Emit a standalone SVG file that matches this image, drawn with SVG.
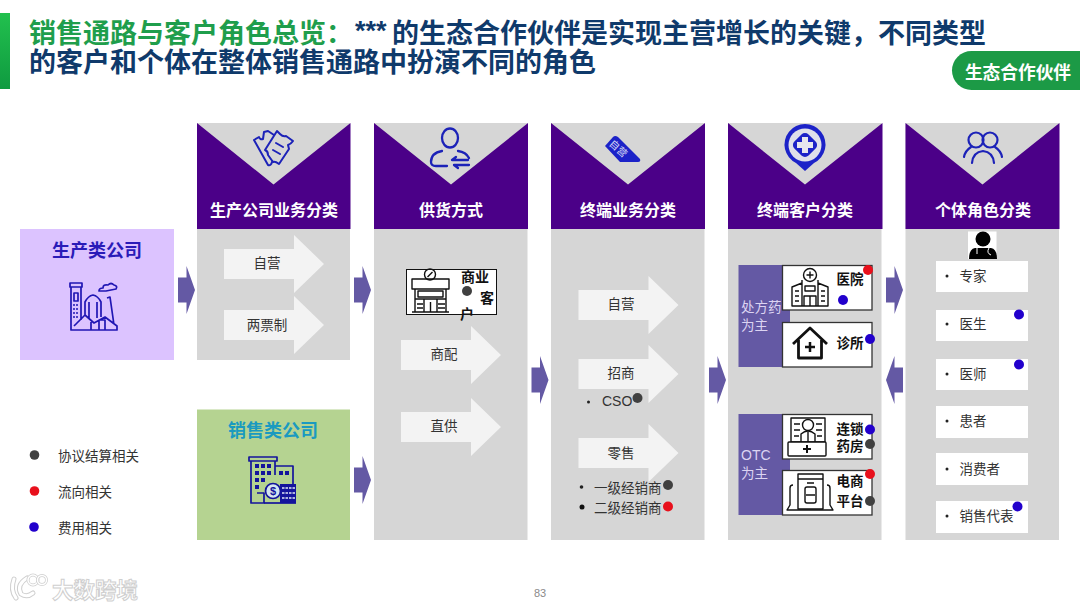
<svg xmlns="http://www.w3.org/2000/svg" width="1080" height="608" viewBox="0 0 1080 608">
<style>
text{font-family:"Noto Sans CJK SC","Liberation Sans",sans-serif;dominant-baseline:central;transform:translateY(-1.5px)}
.title{font-size:27px;font-weight:700;fill:#0f3a6b}
.hd{font-size:16px;font-weight:700;fill:#fff;text-anchor:middle}
.co{font-size:18px;font-weight:700;text-anchor:middle}
.lb{font-size:13.5px;fill:#333}
.lbm{font-size:13.5px;fill:#333;text-anchor:middle}
.cd{font-size:13.5px;font-weight:700;fill:#111;text-anchor:middle}
.side{font-size:13.5px;fill:#dcd4f2}
.lat{font-family:"Liberation Sans",sans-serif}
.body{fill:#d6d6d6}
.pur{fill:#4b0088}
.card{fill:#fff;stroke:#333;stroke-width:1.3}
.wb{fill:#fff}
.ico{fill:none;stroke:#1c22b8;stroke-width:2;stroke-linejoin:round;stroke-linecap:round}
.ik{fill:none;stroke:#111;stroke-width:1.4;stroke-linejoin:round}
.k{fill:#404040}.r{fill:#e8101c}.b{fill:#2200cc}
</style>
<defs>
<linearGradient id="g" x1="0" y1="0" x2="0" y2="1"><stop offset="0" stop-color="#22c04e"/><stop offset="1" stop-color="#0f9a40"/></linearGradient>
<path id="pale" d="M0,-15 H70 V-29 L100,0 L70,29 V15 H0 Z" fill="#f3f3f3"/>
<path id="blk" d="M0,-12.5 H8.5 V-24 L17,0 L8.5,24 V12.5 H0 Z" fill="#6459a4"/>
</defs>
<rect width="1080" height="608" fill="#fff"/>

<g id="title">
<rect x="0" y="13" width="10" height="76" fill="url(#g)"/>
<text class="title" x="29" y="32.500" fill="#1f9e4c" style="fill:#1f9e4c">销售通路与客户角色总览：</text>
<text class="title lat" x="355" y="32.500">***</text>
<text class="title" x="392" y="32.500">的生态合作伙伴是实现主营增长的关键，不同类型</text>
<text class="title" x="29" y="61.500">的客户和个体在整体销售通路中扮演不同的角色</text>
</g>
<g id="tag">
<path d="M1080,51 H971.500 A19.500,19.500 0 0 0 971.500,90 H1080 Z" fill="#1c9a46"/>
<text x="1018" y="72" font-size="17.700" font-weight="700" fill="#fff" text-anchor="middle">生态合作伙伴</text>
</g>

<g id="col1">
<rect class="body" x="197" y="123" width="153" height="237"/>
<path class="pur" d="M197,123 L273.500,184.500 L350.500,123 V229 H197 Z"/>
<text class="hd" x="274" y="210.500">生产公司业务分类</text>
<g class="ico"><path d="M254,140 L259,137 Q260,140 263,139 L264,132 L268,131 L274,135 M254,140 L268,165 Q271,166 272,162"/><path d="M277,131 L280,134 Q283,137 286,136 L293,141 Q291,144 288,145 L289,149 L279,164 Q275,161 273,162 L268,155 Q268,151 265,150 Z"/><path d="M276,143 L283,147 M273,150 L280,154"/></g>
<use href="#pale" x="224" y="264"/><text class="lbm" x="267" y="263">自营</text>
<use href="#pale" x="224" y="325"/><text class="lbm" x="267" y="325">两票制</text>
</g>

<g id="col2">
<rect class="body" x="374" y="123" width="153.500" height="417"/>
<path class="pur" d="M374,123 L451,184.500 L528,123 V229 H374 Z"/>
<text class="hd" x="451" y="210.500">供货方式</text>
<g class="ico" style="stroke-width:2.300"><ellipse cx="450" cy="138" rx="8" ry="9.500"/><path d="M442,151 Q431,153 431,162 Q431,166 436,166 H447 M458,151 Q466,152 469,158 M456,157 L452,160 H468 M469,165 H454 L458,168"/></g>
<use href="#pale" x="401" y="355"/><text class="lbm" x="444" y="354">商配</text>
<use href="#pale" x="401" y="427"/><text class="lbm" x="444" y="426">直供</text>
<rect x="406.500" y="269.500" width="90" height="45" fill="#fff" stroke="#111"/>
<g class="ik"><path d="M412,289 V279 H449 V289 Z M415,289 V312 M446,289 V312 M412,312 H449 M415,299 H446 M424,299 V312 M437,299 V312 M430.500,302 V312"/><rect x="418" y="291" width="25" height="6"/><circle cx="430" cy="274.500" r="5.500"/><path d="M427.500,277 L432.500,272"/><path d="M417,304 H423 M417,308 H423 M438,304 H445 M438,308 H445"/></g>
<text class="cd" x="475" y="277" style="font-size:14px">商业</text><circle class="k" cx="467" cy="291" r="5"/><text class="cd" x="487" y="298" style="font-size:14px">客</text><text class="cd" x="467" y="314" style="font-size:14px">户</text>
</g>

<g id="col3">
<rect class="body" x="551" y="123" width="153.500" height="417"/>
<path class="pur" d="M551,123 L628,184.500 L705,123 V229 H551 Z"/>
<text class="hd" x="628" y="210.500">终端业务分类</text>
<path d="M605,146 L613,137 Q615,135 618,137 L640,159 Q641,162 638,162 L620,162 Z" fill="#1c22c8"/>
<g transform="translate(618,149) rotate(42)"><text x="0" y="0" font-size="10" fill="#d6d6f4" text-anchor="middle">自营</text></g>
<use href="#pale" x="578.500" y="305"/><text class="lbm" x="621" y="304">自营</text>
<use href="#pale" x="578.500" y="374"/><text class="lbm" x="621" y="373">招商</text>
<use href="#pale" x="578.500" y="453"/><text class="lbm" x="621" y="453">零售</text>
<circle cx="588.500" cy="402" r="1.500" fill="#222"/><text class="lat" x="602" y="402.500" font-size="14" fill="#333">CSO</text><circle class="k" cx="637.500" cy="398" r="5"/>
<circle cx="581.500" cy="487" r="1.800" fill="#222"/><text class="lb" x="594" y="488">一级经销商</text><circle class="k" cx="668" cy="485" r="5"/>
<circle cx="582" cy="507" r="2.500" fill="#111"/><text class="lb" x="594" y="508.500">二级经销商</text><circle class="r" cx="668" cy="506.500" r="5"/>
</g>

<g id="col4">
<rect class="body" x="728" y="123" width="153.500" height="417"/>
<path class="pur" d="M728,123 L805,184.500 L882.500,123 V229 H728 Z"/>
<text class="hd" x="805" y="210.500">终端客户分类</text>
<g><path d="M805,171 L796,163 A20.500,20.500 0 1 1 814,163 Z" fill="#1c22c8"/><circle cx="805" cy="145" r="16.500" fill="#dfe0ea"/><rect x="795" y="135" width="20" height="20" rx="5" transform="rotate(45 805 145)" fill="#1c22c8"/><path d="M805,137 V153 M797,145 H813" stroke="#e6e6ee" stroke-width="6"/></g>
<rect x="738.500" y="265" width="51.500" height="102" fill="#6459a4"/>
<rect x="738.500" y="414" width="51.500" height="101" fill="#6459a4"/>
<text class="side" x="741" y="307.500">处方药</text><text class="side" x="741" y="325">为主</text>
<text class="side lat" x="741" y="456" style="font-size:14px">OTC</text><text class="side" x="741" y="473">为主</text>
<rect class="card" x="782.500" y="265.500" width="89.500" height="44.500"/>
<rect class="card" x="782.500" y="322.500" width="89.500" height="44.500"/>
<rect class="card" x="782.500" y="414.500" width="89.500" height="44.500"/>
<rect class="card" x="782.500" y="470.500" width="89.500" height="44.500"/>
<g class="ik"><circle cx="810" cy="275" r="6.500"/><path d="M810,271.500 V278.500 M806.500,275 H813.500 M802,280 V306 M818,280 V306 M802,283 L792,287 V306 H828 V287 L818,283 M795,291 H799 M795,296 H799 M795,301 H799 M821,291 H825 M821,296 H825 M821,301 H825 M805,286 H815 V291 H805 Z M804,296 H816 V306 H804 Z M810,296 V306"/></g>
<g fill="none" stroke="#111" stroke-width="2.800" stroke-linejoin="round"><path d="M793,344 L810,328 L827,344 M798.500,340 V358 H821.500 V340"/><path d="M810,342 V352 M805,347 H815" stroke-width="2.500"/></g>
<g class="ik"><rect x="791" y="418" width="34" height="24"/><circle cx="808" cy="425" r="5.500"/><path d="M801,442 V434 Q808,428 815,434 V442 M808,432 V442 M794,424 H800 M794,430 H800 M816,424 H822 M816,430 H822 M794,436 H799 M817,436 H822"/><rect x="788" y="442" width="38" height="14" rx="1" fill="#fff"/><path d="M807,445 V453 M803,449 H811" stroke-width="2"/></g>
<g class="ik"><rect x="798" y="474" width="25" height="35"/><path d="M798,479 H823 M793,485 Q790,485 790,488 V505 L787,510 H833 L830,505 V488 Q830,485 827,485"/><rect x="805" y="487" width="11" height="16" rx="2"/><path d="M807,483 H814 M806,495 H815" /></g>
<text class="cd" x="850" y="279.500">医院</text><circle class="r" cx="868" cy="270" r="5"/><circle class="b" cx="843" cy="300" r="5"/>
<text class="cd" x="850" y="343.500">诊所</text><circle class="b" cx="870" cy="339" r="5"/>
<text class="cd" x="850" y="429.500">连锁</text><text class="cd" x="850" y="446">药房</text><circle class="b" cx="870" cy="429.500" r="5"/><circle class="k" cx="870" cy="444" r="5"/>
<text class="cd" x="850" y="481">电商</text><text class="cd" x="850" y="501">平台</text><circle class="r" cx="870" cy="474" r="5"/><circle class="k" cx="870" cy="501" r="5"/>
</g>

<g id="col5">
<rect class="body" x="905.500" y="123" width="153.500" height="417"/>
<path class="pur" d="M905.500,123 L982.500,184.500 L1059.500,123 V229 H905.500 Z"/>
<text class="hd" x="983" y="210.500">个体角色分类</text>
<g class="ico" style="stroke-width:2.200"><circle cx="976" cy="140" r="7.500"/><circle cx="990" cy="140" r="7.500"/><path d="M972,163 Q973,152 983,151 Q993,152 994,163 M964,157 Q965,151 971,147 M1002,157 Q1001,151 995,147"/></g>
<rect class="wb" x="968" y="231.500" width="28.500" height="27.500"/>
<circle cx="983" cy="239" r="7.500" fill="#000"/><path d="M969,259 Q969,249 975,248 H991 Q997,249 997,259 Z" fill="#000"/><path d="M977,248 V254 M989,248 Q986,253 991,255" stroke="#fff" stroke-width="1" fill="none"/>
<rect class="wb" x="936" y="261" width="92" height="31"/>
<rect class="wb" x="936" y="310" width="92" height="31"/>
<rect class="wb" x="936" y="359" width="92" height="31"/>
<rect class="wb" x="936" y="406" width="92" height="32"/>
<rect class="wb" x="936" y="453" width="92" height="32"/>
<rect class="wb" x="936" y="501" width="92" height="32"/>
<g fill="#222"><circle cx="947" cy="276" r="1.500"/><circle cx="947" cy="324" r="1.500"/><circle cx="947" cy="374" r="1.500"/><circle cx="947" cy="421" r="1.500"/><circle cx="947" cy="469" r="1.500"/><circle cx="947" cy="516" r="1.500"/></g>
<text class="lb" x="959.500" y="276">专家</text>
<text class="lb" x="959.500" y="324.500">医生</text>
<text class="lb" x="959.500" y="374.500">医师</text>
<text class="lb" x="959.500" y="421.500">患者</text>
<text class="lb" x="959.500" y="469">消费者</text>
<text class="lb" x="959.500" y="516.500">销售代表</text>
<circle class="b" cx="1019" cy="314.500" r="5"/><circle class="b" cx="1019" cy="364.500" r="5"/><circle class="b" cx="1017.500" cy="506.500" r="5"/>
</g>

<g id="company-production">
<rect x="20" y="229" width="154" height="131" fill="#dcc3ff"/>
<text class="co" x="97" y="250.500" fill="#2a1bb8">生产类公司</text>
<g fill="none" stroke="#2016b4" stroke-width="1.700" stroke-linejoin="round"><path d="M70,283 H82 V287 H70 Z M71,287 V330 H117 V326 L105,317 L94,323 L85,315 L74,326 M81,287 V320 M74,293 H78 V301 H74 Z M85,315 V302 Q88,296 93,295 Q98,296 101,302 V317 M89,302 V318 M97,302 V318 M91,330 V322 M105,330 V320 H99 V330 M107,298 L110,297 L114,325"/><path d="M99,291 Q99,288 103,288 Q103,284 108,285 Q111,282 114,285 Q118,286 116,289 L106,291 Z"/></g>
<path d="M73,305 H79 M73,309 H79 M73,313 H79 M73,317 H79" stroke="#2016b4" stroke-width="1.500" stroke-dasharray="2 1"/>
</g>

<g id="company-sales">
<rect x="197" y="409.500" width="153" height="130.500" fill="#b5d391"/>
<text class="co" x="273" y="430.500" fill="#1a9ac0">销售类公司</text>
<g fill="none" stroke="#14149c" stroke-width="1.700" stroke-linejoin="round"><path d="M249,457 H277 V461 H249 Z M251,461 V503 H264 V493 H257 M275,461 V475 M275,466 H293 V484"/></g>
<g fill="#14149c"><rect x="255" y="464" width="4" height="4"/><rect x="261" y="464" width="4" height="4"/><rect x="267" y="464" width="4" height="4"/><rect x="255" y="471" width="4" height="4"/><rect x="261" y="471" width="4" height="4"/><rect x="267" y="471" width="4" height="4"/><rect x="255" y="478" width="4" height="4"/><rect x="261" y="478" width="4" height="4"/><rect x="279" y="471" width="4" height="4"/><rect x="285" y="471" width="4" height="4"/><rect x="255" y="485" width="4" height="4"/><rect x="280" y="484" width="16" height="19"/></g>
<circle cx="273" cy="491" r="7.500" fill="#d4e4f0" stroke="#14149c" stroke-width="1.700"/><text class="lat" x="273" y="492" font-size="11" font-weight="700" fill="#14149c" text-anchor="middle">$</text>
<path d="M282,488 H295 M282,493 H295 M282,498 H295" stroke="#dfe6f5" stroke-width="1.500" stroke-dasharray="2.500 1"/>
<path d="M264,503 H296" stroke="#14149c" stroke-width="1.700"/>
</g>

<g id="connectors">
<use href="#blk" x="178" y="290"/>
<use href="#blk" x="354" y="290"/>
<use href="#blk" x="354" y="480"/>
<use href="#blk" x="531.500" y="380"/>
<use href="#blk" x="709" y="380"/>
<use href="#blk" x="886" y="290"/>
<use href="#blk" transform="translate(903,380) scale(-1,1)"/>
</g>

<g id="legend">
<circle class="k" cx="34.500" cy="455" r="4.800"/><text class="lb" x="58" y="456">协议结算相关</text>
<circle class="r" cx="34.500" cy="491" r="4.800"/><text class="lb" x="58" y="492.500">流向相关</text>
<circle class="b" cx="34" cy="527" r="4.800"/><text class="lb" x="58" y="528.500">费用相关</text>
</g>

<g id="watermark">
<path d="M14,579 Q10,590 16,598 M27,578 Q16,585 21,594 Q27,598 33,593" fill="none" stroke="#cfcfcf" stroke-width="5" stroke-linecap="round"/>
<path d="M14,579 Q10,590 16,598 M27,578 Q16,585 21,594 Q27,598 33,593" fill="none" stroke="#fff" stroke-width="3" stroke-linecap="round"/>
<circle cx="33" cy="580" r="5" fill="none" stroke="#cfcfcf" stroke-width="3"/><circle cx="33" cy="580" r="5" fill="none" stroke="#fff" stroke-width="1.500"/>
<circle cx="42" cy="580" r="4.500" fill="none" stroke="#cfcfcf" stroke-width="3"/><circle cx="42" cy="580" r="4.500" fill="none" stroke="#fff" stroke-width="1.500"/>
<text x="52" y="590" font-size="21.500" font-weight="700" fill="#fff" stroke="#cfcfcf" stroke-width="1">大数跨境</text>
</g>
<text id="page" class="lat" x="540" y="594" font-size="11" fill="#8a8a8a" text-anchor="middle">83</text>
</svg>
